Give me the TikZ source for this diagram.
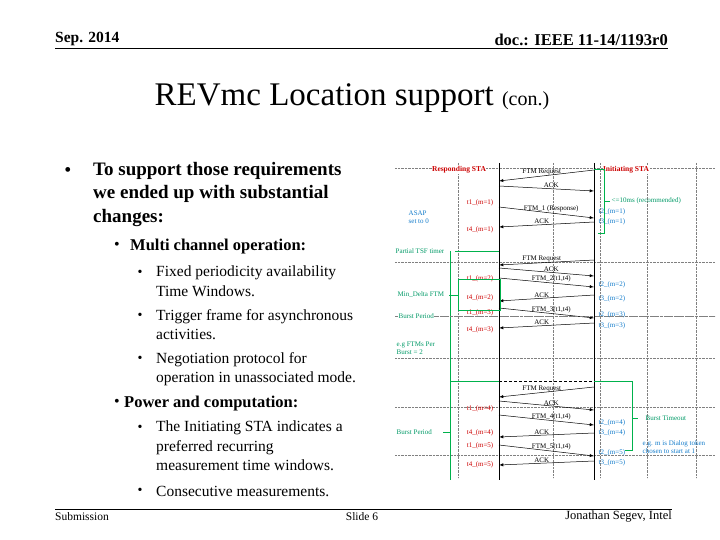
\documentclass[tikz,border=0pt]{standalone}
\usepackage{fontspec}
\setmainfont{Liberation Serif}
\begin{document}
\begin{tikzpicture}[x=1pt,y=-1pt,
  tiny/.style={font=\fontsize{7}{8}\selectfont,inner sep=0.5pt},
  red/.style={tiny,text=red!80!black,anchor=east},
  blu/.style={tiny,text=cyan!60!blue,anchor=west},
  grn/.style={tiny,text=teal!80!green},
  msg/.style={-latex,line width=0.5pt},
  grid/.style={densely dotted,gray,line width=0.4pt},
  gl/.style={teal!60!green,line width=0.6pt}]
\useasboundingbox (0,0) rectangle (720,540);
% header
\node[anchor=west,font=\bfseries\fontsize{15.5}{17}\selectfont,inner sep=0] (h1) at (55,39) {Sep. 2014};
\node[anchor=east,font=\bfseries\fontsize{16.5}{18}\selectfont,inner sep=0] (h2) at (668,40) {doc.: IEEE 11-14/1193r0};
\draw[line width=0.6pt] (55,48) -- (668,48);
\node[font=\fontsize{33}{36}\selectfont] (t) at (352,98) {REVmc Location support {\fontsize{20}{22}\selectfont(con.)}};
% text
\node[font=\fontsize{20}{22}\selectfont] (b0) at (68,172) {•};
\node[anchor=north west,align=left,font=\bfseries\fontsize{19}{23.5}\selectfont,inner sep=0] (tx0) at (93,162) {To support those requirements\\we ended up with substantial\\changes:};
\node[font=\fontsize{16}{18}\selectfont] (b1) at (117,246) {•};
\node[anchor=west,font=\bfseries\fontsize{16.5}{18}\selectfont,inner sep=0] (tx1) at (130,247) {Multi channel operation:};
\foreach \y/\a/\b [count=\i] in {273/Fixed periodicity availability/Time Windows.,316/Trigger frame for asynchronous/activities.,359/Negotiation protocol for/operation in unassociated mode.}{
  \node[font=\fontsize{14}{16}\selectfont] (sb\i) at (140,\y) {•};
  \node[anchor=north west,align=left,font=\fontsize{15.5}{19.5}\selectfont,inner sep=0] (st\i) at (156,\y-7) {\a\\\b};
}
\node[font=\fontsize{16}{18}\selectfont] (b2) at (117,403) {•};
\node[anchor=west,font=\bfseries\fontsize{16.5}{18}\selectfont,inner sep=0] (tx2) at (124,404) {Power and computation:};
\node[font=\fontsize{14}{16}\selectfont] (sb4) at (140,428) {•};
\node[anchor=north west,align=left,font=\fontsize{15.5}{19.5}\selectfont,inner sep=0] (st4) at (156,421) {The Initiating STA indicates a\\preferred recurring\\measurement time windows.};
\node[font=\fontsize{14}{16}\selectfont] (sb5) at (140,491) {•};
\node[anchor=west,font=\fontsize{15.5}{17}\selectfont,inner sep=0] (st5) at (156,491) {Consecutive measurements.};
% footer
\draw[line width=0.5pt] (55,509) -- (672,509);
\node[anchor=west,font=\fontsize{11.5}{13}\selectfont,inner sep=0] (f1) at (55,517) {Submission};
\node[font=\fontsize{11.5}{13}\selectfont] (f2) at (362,517) {Slide 6};
\node[anchor=east,font=\fontsize{12.5}{14}\selectfont,inner sep=0] (f3) at (672,517) {Jonathan Segev, Intel};
% diagram grid
\foreach \y in {168,262,316,358,407,455} \draw[grid] (395,\y) -- (715,\y);
\foreach \x in {458,553,600,647,696} \draw[grid] (\x,163) -- (\x,478);
% lifelines
\coordinate (r0) at (499,163); \coordinate (r1) at (499,480);
\coordinate (i0) at (594,163); \coordinate (i1) at (594,480);
\draw[line width=0.6pt] (r0) -- (r1); \draw[line width=0.6pt] (i0) -- (i1);
\node[tiny,font=\bfseries\fontsize{7.5}{8}\selectfont,text=red!80!black,fill=white] (rs) at (459,170) {Responding STA};
\node[tiny,font=\bfseries\fontsize{7.5}{8}\selectfont,text=red!80!black,fill=white] (is) at (626,170) {Initiating STA};
% messages
\foreach \xa/\ya/\xb/\yb/\l [count=\k] in {
 594/170/499/181/FTM Request, 499/186/594/191/ACK, 499/207/594/218/FTM\_1 (Response), 594/222/499/227/ACK,
 594/260/499/265/FTM Request, 499/268/594/276/ACK, 499/278/594/287/{FTM\_2(t1,t4)}, 594/295/499/301/ACK,
 499/308/594/318/{FTM\_3(t1,t4)}, 594/323/499/328/ACK,
 594/387/499/397/FTM Request, 499/401/594/410/ACK, 499/415/594/425/{FTM\_4(t1,t4)}, 594/433/499/437/ACK,
 499/445/594/456/{FTM\_5(t1,t4)}, 594/461/499/465/ACK}{
 \coordinate (ma\k) at (\xa,\ya); \coordinate (mb\k) at (\xb,\yb);
 \draw[msg] (ma\k) -- node[tiny,above,pos=0.55] {\l} (mb\k);
}
% time labels
\foreach \y/\l in {203/t1\_(m=1),230/t4\_(m=1),279/t1\_(m=2),298/t4\_(m=2),313/t1\_(m=3),330/t4\_(m=3),409/t1\_(m=4),433/t4\_(m=4),446/t1\_(m=5),465/t4\_(m=5)}
  \node[red] at (494,\y) {\l};
\foreach \y/\l in {212/t2\_(m=1),222/t3\_(m=1),285/t2\_(m=2),299/t3\_(m=2),315/t2\_(m=3),326/t3\_(m=3),423/t2\_(m=4),433/t3\_(m=4),453/t2\_(m=5),463/t3\_(m=5)}
  \node[blu] at (598,\y) {\l};
% annotations
\draw[gl] (594,169) -- (604,169) -- (604,233) -- (598,233);
\draw[gl] (604,201) -- (610,201);
\node[grn,anchor=west] (ms) at (611,201) {<=10ms (recommended)};
\node[tiny,text=cyan!60!blue,anchor=west,align=left] (asap) at (408,217) {ASAP\\set to 0};
\node[grn,anchor=west] (pt) at (395,251) {Partial TSF timer};
\draw[gl] (455,251) -- (499,251);
\draw[gl] (450,251) -- (450,382);
\draw[gl] (458,279) rectangle (500,310);
\node[grn,anchor=west] (md) at (397,295) {Min\_Delta FTM};
\draw[gl] (449,295) -- (458,295);
\draw[densely dashed,gray] (395,316) -- (715,316);
\node[grn,anchor=west,fill=white] (bp1) at (398,316) {Burst Period};
\node[grn,anchor=west,align=left] (eg1) at (396,348) {e.g FTMs Per\\Burst = 2};
\draw[gl,line width=1pt] (450,381) -- (499,381);
\draw[densely dashed,line width=0.5pt] (499,381) -- (594,381);
\draw[gl,line width=1pt] (594,381) -- (632,381);
\draw[gl] (450,381) -- (450,480);
\draw[gl] (632,381) -- (632,450) -- (625,450);
\node[grn,anchor=west] (bp2) at (396,432) {Burst Period};
\draw[gl] (443,432) -- (450,432);
\draw[gl] (632,418) -- (638,418);
\node[grn,anchor=west] (bt) at (645,418) {Burst Timeout};
\node[tiny,text=cyan!60!blue,anchor=west,align=left] (eg2) at (642,447) {e.g. m is Dialog token\\chosen to start at 1};
\end{tikzpicture}
\end{document}
